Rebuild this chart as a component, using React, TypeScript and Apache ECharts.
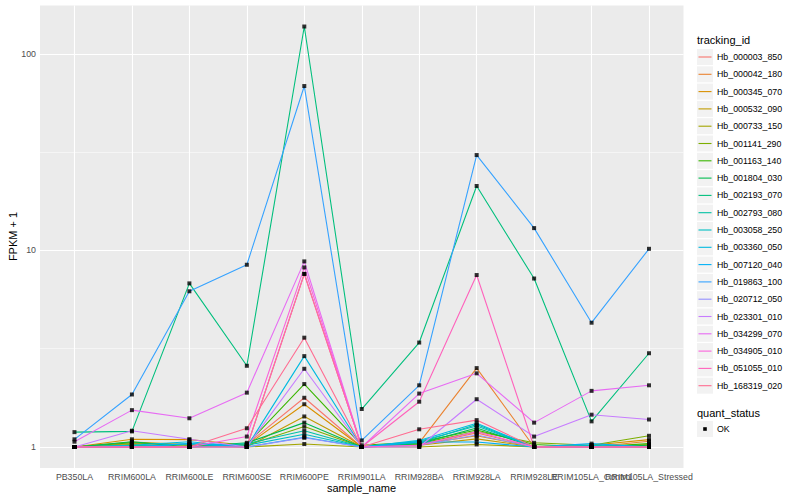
import React, { useEffect, useRef } from "react";
import * as echarts from "echarts";

const categories = [
  "PB350LA", "RRIM600LA", "RRIM600LE", "RRIM600SE", "RRIM600PE", "RRIM901LA",
  "RRIM928BA", "RRIM928LA", "RRIM928LE", "RRIM105LA_Control", "RRIM105LA_Stressed",
];

const trackingIds = [
  "Hb_000003_850", "Hb_000042_180", "Hb_000345_070", "Hb_000532_090", "Hb_000733_150",
  "Hb_001141_290", "Hb_001163_140", "Hb_001804_030", "Hb_002193_070", "Hb_002793_080",
  "Hb_003058_250", "Hb_003360_050", "Hb_007120_040", "Hb_019863_100", "Hb_020712_050",
  "Hb_023301_010", "Hb_034299_070", "Hb_034905_010", "Hb_051055_010", "Hb_168319_020",
];

const lineColors = [
  "#F8766D", "#EA8331", "#D89000", "#C09B00", "#A3A500", "#7CAE00", "#39B600", "#00BB4E",
  "#00BF7D", "#00C1A3", "#00BFC4", "#00BAE0", "#00B0F6", "#35A2FF", "#9590FF", "#C77CFF",
  "#E76BF3", "#FA62DB", "#FF62BC", "#FF6C91",
];

// FPKM + 1 values per tracking id, in the order of `categories`
const hb000003_850 = [1.0, 1.02, 1.0, 1.03, 1.78, 1.0, 1.02, 1.18, 1.0, 1.0, 1.0];
const hb000042_180 = [1.0, 1.04, 1.02, 1.0, 7.6, 1.0, 1.05, 2.52, 1.0, 1.0, 1.07];
const hb000345_070 = [1.0, 1.094, 1.09, 1.02, 1.65, 1.0, 1.03, 1.14, 1.0, 1.02, 1.09];
const hb000532_090 = [1.0, 1.06, 1.03, 1.0, 1.43, 1.0, 1.02, 1.1, 1.0, 1.0, 1.03];
const hb000733_150 = [1.0, 1.0, 1.0, 1.0, 1.035, 1.0, 1.0, 1.03, 1.0, 1.0, 1.02];
const hb001141_290 = [1.0, 1.03, 1.0, 1.02, 1.27, 1.0, 1.04, 1.2, 1.05, 1.02, 1.14];
const hb001163_140 = [1.0, 1.05, 1.02, 1.03, 2.09, 1.02, 1.06, 1.22, 1.03, 1.0, 1.04];
const hb001804_030 = [1.0, 1.064, 1.0, 1.05, 1.33, 1.0, 1.04, 1.25, 1.0, 1.0, 1.02];
const hb002193_070 = [1.19, 1.2, 6.8, 2.59, 138, 1.56, 3.4, 21.3, 7.2, 1.35, 3.0];
const hb002793_080 = [1.0, 1.02, 1.0, 1.04, 1.21, 1.0, 1.05, 1.3, 1.0, 1.0, 1.0];
const hb003058_250 = [1.0, 1.0, 1.04, 1.02, 1.16, 1.0, 1.07, 1.28, 1.0, 1.02, 1.0];
const hb003360_050 = [1.0, 1.02, 1.064, 1.0, 2.9, 1.0, 1.08, 1.32, 1.0, 1.0, 1.0];
const hb007120_040 = [1.0, 1.0, 1.04, 1.0, 1.12, 1.0, 1.06, 1.06, 1.0, 1.04, 1.0];
const hb019863_100 = [1.094, 1.85, 6.2, 8.46, 68.7, 1.08, 2.06, 30.6, 13.0, 4.29, 10.2];
const hb020712_050 = [1.0, 1.0, 1.0, 1.0, 1.115, 1.0, 1.02, 1.15, 1.0, 1.0, 1.0];
const hb023301_010 = [1.0, 1.21, 1.094, 1.0, 2.5, 1.0, 1.0, 1.75, 1.13, 1.46, 1.38];
const hb034299_070 = [1.064, 1.54, 1.4, 1.89, 8.8, 1.0, 1.87, 2.37, 1.33, 1.93, 2.06];
const hb034905_010 = [1.0, 1.0, 1.0, 1.13, 8.2, 1.0, 1.02, 1.2, 1.0, 1.0, 1.0];
const hb051055_010 = [1.0, 1.0, 1.0, 1.0, 7.6, 1.0, 1.7, 7.5, 1.0, 1.0, 1.0];
const hb168319_020 = [1.0, 1.0, 1.0, 1.245, 3.6, 1.0, 1.23, 1.37, 1.0, 1.0, 1.0];

const seriesValues = [
  hb000003_850, hb000042_180, hb000345_070, hb000532_090, hb000733_150,
  hb001141_290, hb001163_140, hb001804_030, hb002193_070, hb002793_080,
  hb003058_250, hb003360_050, hb007120_040, hb019863_100, hb020712_050,
  hb023301_010, hb034299_070, hb034905_010, hb051055_010, hb168319_020,
];

const yTickValues = [1, 10, 100];
const yMinorValues = [Math.sqrt(10), Math.sqrt(1000)];
const quantStatus = ["OK"];

const FONT = "Liberation Sans, Arial, Helvetica, sans-serif";

export default function App() {
  const ref = useRef<HTMLDivElement>(null);

  useEffect(() => {
    if (!ref.current) return;
    const chart = echarts.init(ref.current, null, { renderer: "svg" });

    const logs = seriesValues.flat().map((v) => Math.log10(v));
    const lo = Math.min(...logs);
    const hi = Math.max(...logs);
    const pad = (hi - lo) * 0.05;
    const idx = categories.map((_, i) => i);
    const evenIdx = idx.filter((i) => i % 2 === 0);
    const oddIdx = idx.filter((i) => i % 2 === 1);

    const lineSeries = seriesValues.map((vals, s) => ({
      type: "line",
      name: trackingIds[s],
      data: vals.map((v, i) => [i, Math.log10(v)]),
      showSymbol: false,
      symbol: "none",
      lineStyle: { color: lineColors[s], width: 1.1 },
      z: 3,
      silent: true,
    }));

    const pointData: number[][] = [];
    seriesValues.forEach((vals) => vals.forEach((v, i) => pointData.push([i, Math.log10(v)])));

    const gridLineSeries = {
      type: "line",
      data: [],
      silent: true,
      z: 1,
      markLine: {
        z: 1,
        silent: true,
        symbol: ["none", "none"],
        label: { show: false },
        animation: false,
        data: [
          ...yMinorValues.map((v) => ({ yAxis: Math.log10(v), lineStyle: { color: "#FFFFFF", width: 0.5, type: "solid" } })),
          ...yTickValues.map((v) => ({ yAxis: Math.log10(v), lineStyle: { color: "#FFFFFF", width: 1.1, type: "solid" } })),
          ...idx.map((i) => ({ xAxis: i, lineStyle: { color: "#FFFFFF", width: 1.1, type: "solid" } })),
        ],
      },
    };

    const legendTop = 49;
    const legendStep = 17.3;
    const legendGraphics: any[] = [
      {
        type: "text",
        x: 697,
        y: 40,
        style: { text: "tracking_id", fontSize: 11, fontFamily: FONT, fill: "#000", textVerticalAlign: "middle" },
      },
    ];
    trackingIds.forEach((id, i) => {
      const y = legendTop + i * legendStep;
      legendGraphics.push({
        type: "rect",
        shape: { x: 697, y, width: 16, height: 16 },
        style: { fill: "#F2F2F2" },
      });
      legendGraphics.push({
        type: "line",
        shape: { x1: 698.5, y1: y + 8, x2: 711.5, y2: y + 8 },
        style: { stroke: lineColors[i], lineWidth: 1.1 },
      });
      legendGraphics.push({
        type: "text",
        x: 717,
        y: y + 8,
        style: { text: id, fontSize: 8.8, fontFamily: FONT, fill: "#000", textVerticalAlign: "middle" },
      });
    });
    legendGraphics.push({
      type: "text",
      x: 697,
      y: 412.5,
      style: { text: "quant_status", fontSize: 11, fontFamily: FONT, fill: "#000", textVerticalAlign: "middle" },
    });
    quantStatus.forEach((q, i) => {
      const y = 421 + i * legendStep;
      legendGraphics.push({ type: "rect", shape: { x: 697, y, width: 16, height: 16 }, style: { fill: "#F2F2F2" } });
      legendGraphics.push({ type: "rect", shape: { x: 703.2, y: y + 6.2, width: 3.6, height: 3.6 }, style: { fill: "#000" } });
      legendGraphics.push({
        type: "text",
        x: 717,
        y: y + 8,
        style: { text: q, fontSize: 8.8, fontFamily: FONT, fill: "#000", textVerticalAlign: "middle" },
      });
    });

    const makeXAxis = (labelIdx: number[], showTicks: boolean) => ({
      type: "value",
      position: "bottom",
      offset: 0,
      min: -0.6,
      max: categories.length - 1 + 0.6,
      axisLine: { show: false },
      splitLine: { show: false },
      axisTick: { show: showTicks, customValues: idx, length: 3, lineStyle: { color: "#333333", width: 1 } },
      axisLabel: {
        customValues: labelIdx,
        formatter: (v: number) => categories[Math.round(v)] ?? "",
        fontSize: 8.8,
        fontFamily: FONT,
        color: "#4D4D4D",
        margin: 4,
        hideOverlap: false,
        showMinLabel: true,
        showMaxLabel: true,
      },
    });

    const option: any = {
      animation: false,
      backgroundColor: "#FFFFFF",
      grid: {
        left: 40,
        top: 5.5,
        width: 643.5,
        height: 462.5,
        show: true,
        backgroundColor: "#EBEBEB",
        borderWidth: 0,
        containLabel: false,
      },
      xAxis: [makeXAxis(evenIdx, true), makeXAxis(oddIdx, false)],
      yAxis: {
        type: "value",
        min: lo - pad,
        max: hi + pad,
        axisLine: { show: false },
        splitLine: { show: false },
        axisTick: { show: true, customValues: yTickValues.map((v) => Math.log10(v)), length: 3, lineStyle: { color: "#333333", width: 1 } },
        axisLabel: {
          customValues: yTickValues.map((v) => Math.log10(v)),
          formatter: (v: number) => String(Math.round(Math.pow(10, v))),
          fontSize: 8.8,
          fontFamily: FONT,
          color: "#4D4D4D",
          margin: 4,
          showMinLabel: true,
          showMaxLabel: true,
        },
      },
      graphic: [
        {
          type: "text",
          x: 361.5,
          y: 488,
          style: { text: "sample_name", fontSize: 11, fontFamily: FONT, fill: "#000", textAlign: "center", textVerticalAlign: "middle" },
        },
        {
          type: "text",
          x: 13,
          y: 236.5,
          rotation: Math.PI / 2,
          style: { text: "FPKM + 1", fontSize: 11, fontFamily: FONT, fill: "#000", textAlign: "center", textVerticalAlign: "middle" },
        },
        ...legendGraphics,
      ],
      series: [
        gridLineSeries,
        ...lineSeries,
        {
          type: "scatter",
          name: "OK",
          data: pointData,
          symbol: "rect",
          symbolSize: 4,
          itemStyle: { color: "#000000" },
          z: 5,
          silent: true,
        },
      ],
    };

    chart.setOption(option);
    return () => chart.dispose();
  }, []);

  return (
    <div
      ref={ref}
      style={{ position: "absolute", left: 0, top: 0, width: 800, height: 500 }}
    />
  );
}
